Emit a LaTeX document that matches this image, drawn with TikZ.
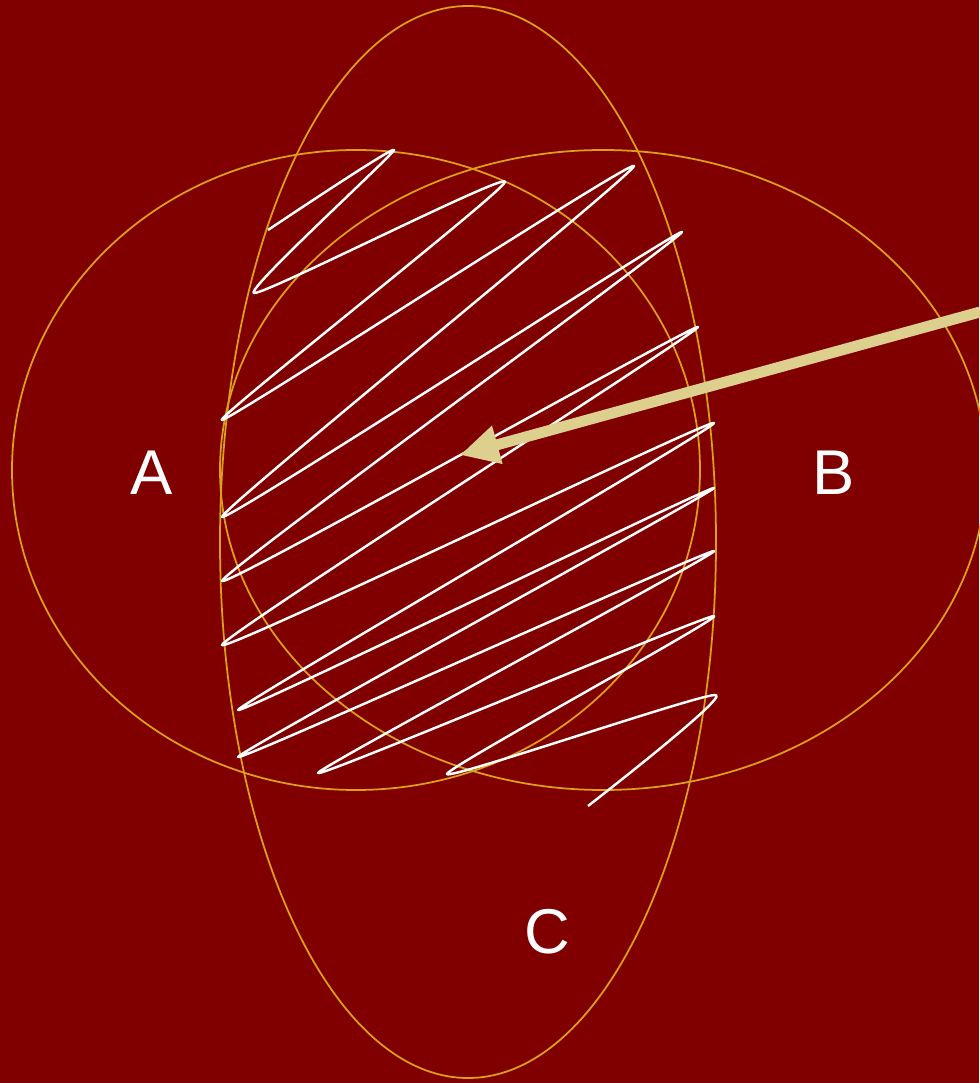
\documentclass[tikz,border=0pt]{standalone}
\usepackage{fontspec}
\setmainfont{Liberation Sans}
\usetikzlibrary{arrows.meta}
\definecolor{bgred}{RGB}{128,0,0}
\definecolor{setgold}{RGB}{218,160,24}
\definecolor{pointtan}{RGB}{221,208,142}
\tikzset{
  setline/.style={draw=setgold, line width=0.5pt},
  scribble/.style={draw=white, line width=0.7pt, line join=round},
  setlabel/.style={text=white, font=\fontsize{18}{20}\selectfont, inner sep=0pt},
  pointer/.style={draw=pointtan, line width=3.1pt, -{Triangle[length=11pt,width=10.5pt]}}
}
\begin{document}
\begin{tikzpicture}[x=0.01cm,y=-0.01cm]
\fill[bgred] (0,0) rectangle (979,1083);
\useasboundingbox (0,0) rectangle (979,1083);
% ellipses
\draw[setline] (356,470) ellipse [x radius=344, y radius=320];
\draw[setline] (603,470) ellipse [x radius=383, y radius=320];
\draw[setline] (468,542) ellipse [x radius=248, y radius=536];
% scribble
\draw[scribble] plot[smooth, tension=0.3] coordinates {
 (268,230) (394,150) (254,293) (505,182) (222,420) (634,166)
 (222,517) (682,232) (222,581) (698,327) (222,645) (714,423)
 (238,710) (714,488) (238,757) (714,551) (318,773) (714,616)
 (447,774) (716,695) (588,806)};
% labels
\node[setlabel] (la) at (152,473) {A};
\node[setlabel] (lb) at (834,473) {B};
\node[setlabel] (lc) at (547,932) {C};
% pointer
\coordinate (ps) at (980,312);
\coordinate (pe) at (460,455);
\draw[pointer] (ps) -- (pe);
\end{tikzpicture}
\end{document}
